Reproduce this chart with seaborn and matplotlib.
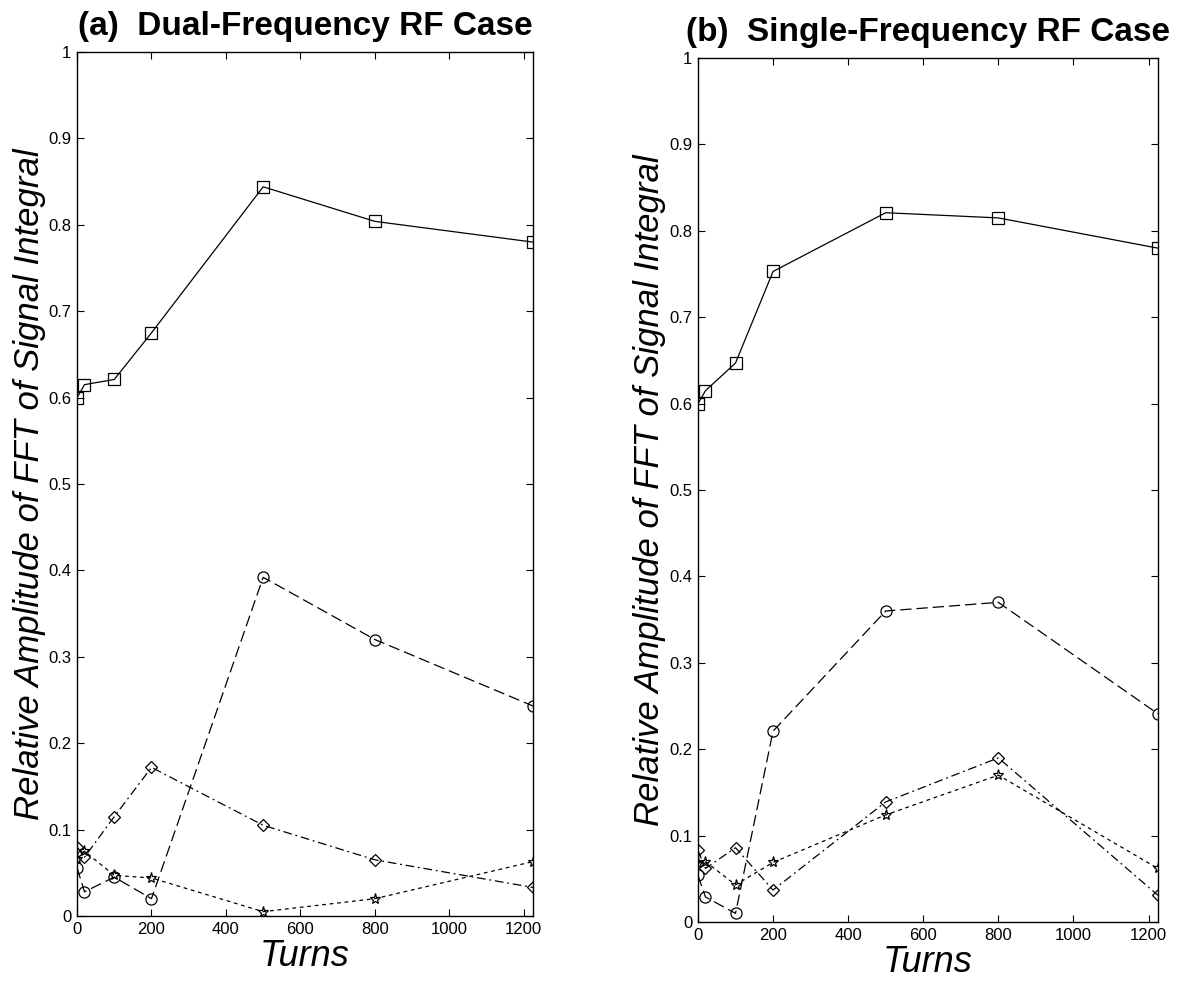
import seaborn as sns
import matplotlib
matplotlib.use('Agg')
from matplotlib import pyplot as plt

# turn numbers of the measurements (last one sits on the right frame)
turns = [0, 20, 100, 200, 500, 800, 1225]

# (a) dual-frequency RF case
dual_square = [0.600, 0.615, 0.621, 0.675, 0.844, 0.804, 0.780]
dual_circle = [0.056, 0.028, 0.045, 0.020, 0.392, 0.320, 0.243]
dual_diamond = [0.080, 0.068, 0.115, 0.172, 0.105, 0.065, 0.033]
dual_star = [0.066, 0.075, 0.047, 0.044, 0.005, 0.020, 0.063]

# (b) single-frequency RF case
single_square = [0.600, 0.615, 0.647, 0.753, 0.821, 0.815, 0.780]
single_circle = [0.054, 0.029, 0.010, 0.221, 0.360, 0.370, 0.241]
single_diamond = [0.083, 0.062, 0.086, 0.037, 0.139, 0.190, 0.031]
single_star = [0.068, 0.070, 0.043, 0.069, 0.124, 0.170, 0.062]

x_ticks = [0, 200, 400, 600, 800, 1000, 1200]
y_ticks = [0, 0.1, 0.2, 0.3, 0.4, 0.5, 0.6, 0.7, 0.8, 0.9, 1]
y_tick_labels = ['0', '0.1', '0.2', '0.3', '0.4', '0.5', '0.6', '0.7', '0.8', '0.9', '1']

titles = ['(a)  Dual-Frequency RF Case', '(b)  Single-Frequency RF Case']
y_label = 'Relative Amplitude of FFT of Signal Integral'
x_label = 'Turns'

sns.set_style('ticks')
plt.rcParams['font.family'] = ['Liberation Sans', 'DejaVu Sans']
plt.rcParams['text.color'] = 'k'
plt.rcParams['axes.labelcolor'] = 'k'
plt.rcParams['xtick.color'] = 'k'
plt.rcParams['ytick.color'] = 'k'


def drawPanel(ax, square, circle, diamond, star, title):
    '''
        One panel : four marker series against turns
    '''
    series = [
        (square, 's', '-'),
        (circle, 'o', (0, (9, 4))),
        (diamond, 'D', (0, (7, 3, 1.5, 3))),
        (star, '*', (0, (3, 3))),
    ]
    for values, marker, ls in series:
        sns.lineplot(x=turns, y=values, ax=ax, color='k', linewidth=0.9,
                     linestyle=ls, marker=marker,
                     markersize=8 if marker != 'D' else 6,
                     markerfacecolor='none', markeredgecolor='k',
                     markeredgewidth=0.9, sort=False)

    ax.set_xlim(0, 1225)
    ax.set_ylim(0, 1)
    ax.set_xticks(x_ticks)
    ax.set_yticks(y_ticks)
    ax.set_yticklabels(y_tick_labels)
    ax.tick_params(direction='in', length=5, width=0.8, labelsize=12,
                   top=True, right=True, pad=4, colors='k')
    for sp in ax.spines.values():
        sp.set_visible(True)
        sp.set_linewidth(1.0)
        sp.set_color('k')
    ax.set_title(title, fontsize=24, fontweight='bold', pad=12, color='k')
    ax.set_xlabel(x_label, fontsize=26, style='italic', labelpad=2)
    ax.set_ylabel(y_label, fontsize=25, style='italic', labelpad=2)


fig = plt.figure(figsize=(11.87, 9.91), dpi=100)
ax_a = fig.add_axes([0.0649, 0.0757, 0.3842, 0.8718])
ax_b = fig.add_axes([0.588, 0.0696, 0.3875, 0.8718])

drawPanel(ax_a, dual_square, dual_circle, dual_diamond, dual_star, titles[0])
drawPanel(ax_b, single_square, single_circle, single_diamond, single_star, titles[1])

fig.savefig('out.png', dpi=100)
plt.close(fig)
